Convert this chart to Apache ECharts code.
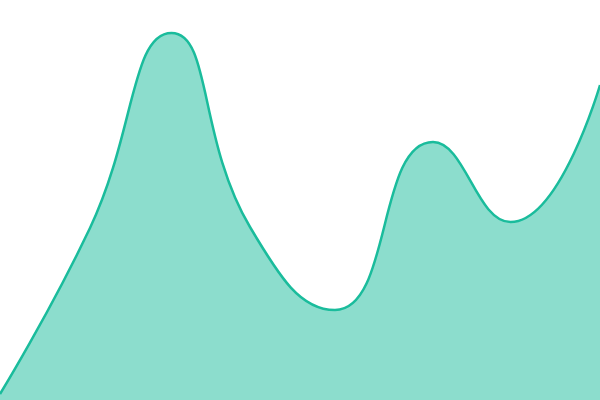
<!DOCTYPE html>
<html><head><meta charset="utf-8">
<script src="https://cdn.jsdelivr.net/npm/echarts@6/dist/echarts.min.js"></script>
<style>html,body{margin:0;padding:0;background:#fff}#c{width:600px;height:400px}</style>
</head><body><div id="c"></div>
<script>
const xValues = [0, 90, 171.5, 250, 335, 433, 510.5, 600];
const yValues = [6, 172, 367, 173, 90, 258, 178, 315];
const chart = echarts.init(document.getElementById('c'));
chart.setOption({
  animation: false,
  grid: {left: 0, right: 0, top: 0, bottom: 0},
  xAxis: {type: 'value', min: 0, max: 600, show: false},
  yAxis: {type: 'value', min: 0, max: 400, show: false},
  series: [{
    type: 'line', data: xValues.map((x, i) => [x, yValues[i]]), smooth: true, symbol: 'none',
    lineStyle: {color: '#1abc9c', width: 2.5},
    areaStyle: {color: '#1abc9c', opacity: 0.5}
  }]
});
</script></body></html>
